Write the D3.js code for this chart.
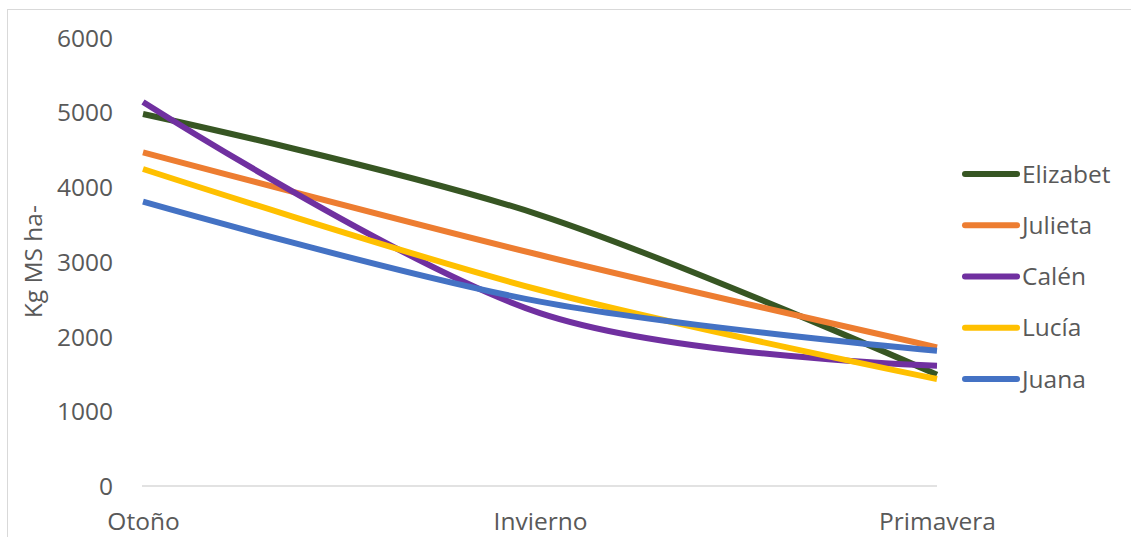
<!DOCTYPE html>
<html>
<head>
<meta charset="utf-8">
<script src="https://cdn.jsdelivr.net/npm/d3@7"></script>
<style>
  html, body { margin: 0; padding: 0; background: #fff; }
  svg { display: block; }
  text { font-family: "Open Sans", sans-serif; fill: #595959; }
</style>
</head>
<body>
<svg id="chart" width="1131" height="537"></svg>
<script>
const categories = ["Otoño", "Invierno", "Primavera"];
const seriesNames = ["Elizabet", "Julieta", "Calén", "Lucía", "Juana"];
const elizabet = [4977, 3625, 1490];
const julieta  = [4464, 3090, 1855];
const calen    = [5137, 2314, 1609];
const lucia    = [4241, 2622, 1431];
const juana    = [3803, 2466, 1810];
const yTicks = [0, 1000, 2000, 3000, 4000, 5000, 6000];
const colors = ["#375623", "#ED7D31", "#7030A0", "#FFC000", "#4472C4"];
const axisTitle = "Kg MS ha-";

const seriesValues = [elizabet, julieta, calen, lucia, juana];
const series = seriesNames.map((n, i) => ({ name: n, values: seriesValues[i], color: colors[i] }));

const svg = d3.select("#chart");
const fs = 24.5;

// outer chart border (cropped)
svg.append("rect")
  .attr("x", 7.5).attr("y", 9.5)
  .attr("width", 1300).attr("height", 700)
  .attr("fill", "none").attr("stroke", "#d9d9d9").attr("stroke-width", 1);

const x = d3.scalePoint().domain(categories).range([143, 937]);
const y = d3.scaleLinear().domain([0, 6000]).range([486, 37.5]);

// y axis labels
const yAxis = d3.axisLeft(y).tickValues(yTicks).tickSize(0).tickPadding(0).tickFormat(d3.format("d"));
const gy = svg.append("g").attr("transform", "translate(113,0)").call(yAxis);
gy.select(".domain").remove();
gy.selectAll("text").attr("font-size", fs).attr("fill", "#595959")
  .attr("font-family", "Open Sans, sans-serif").attr("dy", "0.35em");

// x axis
const xAxis = d3.axisBottom(x).tickSize(0).tickPadding(0);
const gx = svg.append("g").attr("transform", "translate(0,486)").call(xAxis);
gx.select(".domain").attr("stroke", "#d9d9d9").attr("stroke-width", 1.5)
  .attr("d", `M${x.range()[0] - 1},0H${x.range()[1]}`);
gx.selectAll("text").attr("font-size", fs).attr("fill", "#595959")
  .attr("font-family", "Open Sans, sans-serif").attr("dy", 0).attr("y", 44);

// y axis title
svg.append("text")
  .attr("transform", `translate(42,${(y(0) + y(6000)) / 2}) rotate(-90)`)
  .attr("text-anchor", "middle")
  .attr("font-size", fs)
  .text(axisTitle);

// lines
const line = d3.line()
  .x((d, i) => x(categories[i]))
  .y(d => y(d))
  .curve(d3.curveCardinal.tension(0));

svg.append("g").selectAll("path")
  .data(series)
  .join("path")
  .attr("d", d => line(d.values))
  .attr("fill", "none")
  .attr("stroke", d => d.color)
  .attr("stroke-width", 6)
  .attr("stroke-linejoin", "round");

// legend
const legendY = d3.scalePoint().domain(seriesNames).range([174, 379]);
const lg = svg.append("g").selectAll("g").data(series).join("g")
  .attr("transform", d => `translate(0,${legendY(d.name)})`);
lg.append("line")
  .attr("x1", 965).attr("x2", 1017).attr("y1", 0).attr("y2", 0)
  .attr("stroke", d => d.color).attr("stroke-width", 6).attr("stroke-linecap", "round");
lg.append("text")
  .attr("x", 1022).attr("y", 0).attr("dy", "0.35em")
  .attr("font-size", fs)
  .text(d => d.name);
</script>
</body>
</html>
